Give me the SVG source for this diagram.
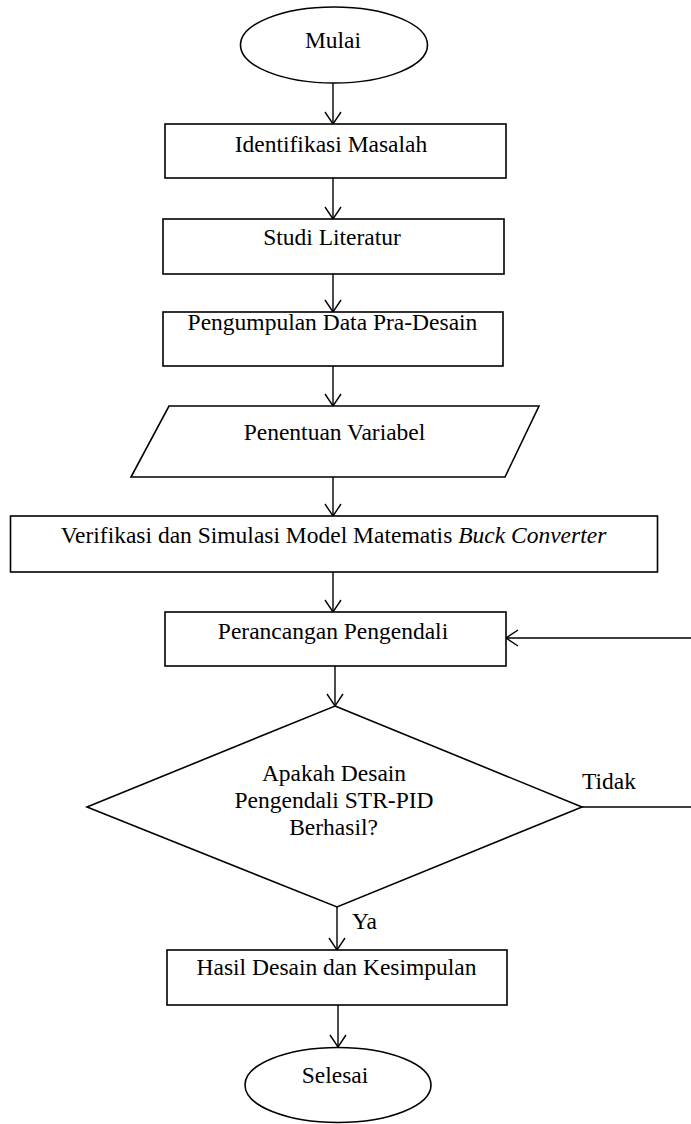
<svg xmlns="http://www.w3.org/2000/svg" width="691" height="1124" viewBox="0 0 691 1124">
<style>
.s{fill:#fff;stroke:#000;stroke-width:1.6}
.t{font-family:"Liberation Serif","Times New Roman",serif;font-size:23.5px;fill:#000;text-anchor:middle}
.c{fill:none;stroke:#000;stroke-width:1.4}
</style>
<defs>
<marker id="ah" markerUnits="userSpaceOnUse" markerWidth="20" markerHeight="20" viewBox="-14 -10 16 20" refX="0" refY="0" orient="auto">
<path d="M-12,-8 L0,0 L-12,8" fill="none" stroke="#000" stroke-width="1.4"/>
</marker>
</defs>
<rect width="691" height="1124" fill="#fff"/>
<g id="connectors">
<line class="c" x1="333" y1="83" x2="333" y2="124" marker-end="url(#ah)"/>
<line class="c" x1="333" y1="178" x2="333" y2="219" marker-end="url(#ah)"/>
<line class="c" x1="333" y1="274" x2="333" y2="312" marker-end="url(#ah)"/>
<line class="c" x1="333" y1="366" x2="333" y2="406" marker-end="url(#ah)"/>
<line class="c" x1="333" y1="477" x2="333" y2="516" marker-end="url(#ah)"/>
<line class="c" x1="333" y1="572" x2="333" y2="612" marker-end="url(#ah)"/>
<line class="c" x1="335" y1="666" x2="335" y2="706" marker-end="url(#ah)"/>
<line class="c" x1="337" y1="907" x2="337" y2="950" marker-end="url(#ah)"/>
<line class="c" x1="338" y1="1005" x2="338" y2="1047" marker-end="url(#ah)"/>
<path class="c" d="M582,807 H693 V638 H506" marker-end="url(#ah)"/>
<text class="t" x="582" y="789" style="text-anchor:start">Tidak</text>
<text class="t" x="352" y="929" style="text-anchor:start">Ya</text>
</g>
<g id="mulai">
<ellipse class="s" cx="334" cy="45" rx="93.5" ry="38"/>
<text class="t" x="333" y="48">Mulai</text>
</g>
<g id="identifikasi">
<rect class="s" x="165" y="124" width="341" height="54"/>
<text class="t" x="331" y="152">Identifikasi Masalah</text>
</g>
<g id="studi">
<rect class="s" x="163" y="219" width="341" height="55"/>
<text class="t" x="332" y="245">Studi Literatur</text>
</g>
<g id="pengumpulan">
<rect class="s" x="163" y="312" width="340" height="54"/>
<text class="t" x="332.5" y="330">Pengumpulan Data Pra-Desain</text>
</g>
<g id="penentuan">
<polygon class="s" points="169,406 539,406 505,477 131,477"/>
<text class="t" x="334.5" y="440">Penentuan Variabel</text>
</g>
<g id="verifikasi">
<rect class="s" x="10.5" y="516" width="647" height="56"/>
<text class="t" x="333.5" y="543">Verifikasi dan Simulasi Model Matematis <tspan font-style="italic">Buck Converter</tspan></text>
</g>
<g id="perancangan">
<rect class="s" x="165" y="612" width="341" height="54"/>
<text class="t" x="333" y="639">Perancangan Pengendali</text>
</g>
<g id="keputusan">
<polygon class="s" points="335,706 582,807 337,907 87,807"/>
<text class="t" x="334" y="781">Apakah Desain</text>
<text class="t" x="334" y="808">Pengendali STR-PID</text>
<text class="t" x="333.5" y="835">Berhasil?</text>
</g>
<g id="hasil">
<rect class="s" x="167" y="950" width="340" height="55"/>
<text class="t" x="336.5" y="975">Hasil Desain dan Kesimpulan</text>
</g>
<g id="selesai">
<ellipse class="s" cx="338" cy="1085" rx="93" ry="37.5"/>
<text class="t" x="335" y="1083">Selesai</text>
</g>
</svg>
